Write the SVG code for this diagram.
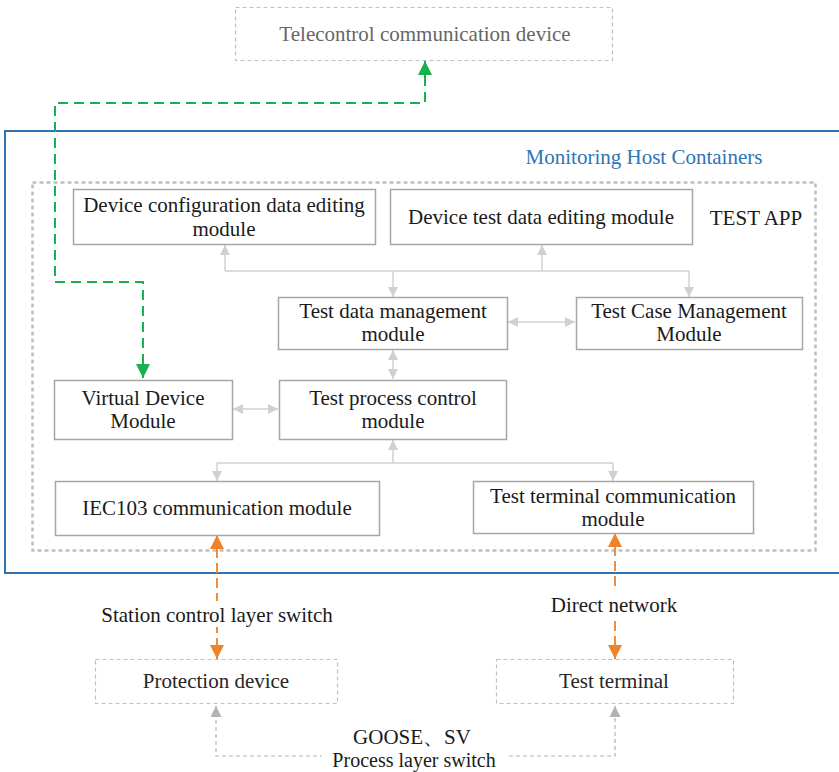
<svg xmlns="http://www.w3.org/2000/svg" width="839" height="772" viewBox="0 0 839 772">
  <style>
    text { font-family: "Liberation Serif", "Times New Roman", serif; text-anchor: middle; font-size: 21px; }
    .mod rect { fill: #fff; stroke: #a6a6a6; stroke-width: 1.5; }
    .mod text { fill: #1a1a1a; }
    .ext rect { fill: #fff; stroke: #c0c0c0; stroke-width: 1.2; stroke-dasharray: 4 3; }
    .ext text { fill: #262626; }
    .gray { fill: none; stroke: #d0d0d0; stroke-width: 1.5; }
    .green { fill: none; stroke: #19b04e; stroke-width: 2; stroke-dasharray: 10 6; }
    .orange { fill: none; stroke: #f0832a; stroke-width: 1.8; stroke-dasharray: 10 5; }
    .link { fill: none; stroke: #b3b3b3; stroke-width: 1.2; stroke-dasharray: 4 3; }
    .lbl { fill: #1a1a1a; }
  </style>
  <defs>
    <marker id="ag" viewBox="0 0 10 10" refX="10" refY="5" markerWidth="10" markerHeight="10" markerUnits="userSpaceOnUse" orient="auto-start-reverse">
      <path d="M0,0 L10,5 L0,10 z" fill="#d0d0d0"/>
    </marker>
    <marker id="agr" viewBox="0 0 10 10" refX="10" refY="5" markerWidth="14" markerHeight="14" markerUnits="userSpaceOnUse" orient="auto-start-reverse">
      <path d="M0,0 L10,5 L0,10 z" fill="#19b04e"/>
    </marker>
    <marker id="aor" viewBox="0 0 10 10" refX="10" refY="5" markerWidth="14" markerHeight="14" markerUnits="userSpaceOnUse" orient="auto-start-reverse">
      <path d="M0,0 L10,5 L0,10 z" fill="#f0832a"/>
    </marker>
    <marker id="alk" viewBox="0 0 10 10" refX="10" refY="5" markerWidth="11" markerHeight="11" markerUnits="userSpaceOnUse" orient="auto-start-reverse">
      <path d="M0,0 L10,5 L0,10 z" fill="#b3b3b3"/>
    </marker>
  </defs>

  <!-- monitoring host container -->
  <g id="host">
    <rect x="5" y="131" width="840" height="442" fill="none" stroke="#2e75b6" stroke-width="2"/>
    <text x="644" y="164" style="fill:#2e75b6">Monitoring Host Containers</text>
  </g>

  <!-- test app boundary -->
  <g id="test-app">
    <rect x="32.5" y="182.5" width="783" height="368" fill="none" stroke="#bfbfbf" stroke-width="2.5" stroke-dasharray="4 3"/>
    <text x="756" y="225" style="fill:#1a1a1a">TEST APP</text>
  </g>

  <!-- connectors -->
  <g id="connectors">
    <!-- top bus -->
    <path class="gray" d="M225,271 H689"/>
    <path class="gray" d="M225,271 V245" marker-end="url(#ag)"/>
    <path class="gray" d="M542,271 V245" marker-end="url(#ag)"/>
    <path class="gray" d="M393,271 V297" marker-end="url(#ag)"/>
    <path class="gray" d="M689,271 V297" marker-end="url(#ag)"/>
    <!-- mid links -->
    <path class="gray" d="M508,322 H575" marker-start="url(#ag)" marker-end="url(#ag)"/>
    <path class="gray" d="M393,350 V379" marker-start="url(#ag)" marker-end="url(#ag)"/>
    <path class="gray" d="M233,409 H278" marker-start="url(#ag)" marker-end="url(#ag)"/>
    <!-- lower bus -->
    <path class="gray" d="M217,463 H613"/>
    <path class="gray" d="M393,463 V440" marker-end="url(#ag)"/>
    <path class="gray" d="M217,463 V481" marker-end="url(#ag)"/>
    <path class="gray" d="M613,463 V481" marker-end="url(#ag)"/>

    <!-- telecontrol link -->
    <path class="green" d="M143,364 V282 H55 V103 H425 V75"/>
    <path d="M143,366 V378" stroke="#19b04e" stroke-width="2" marker-end="url(#agr)"/>
    <path d="M425,76 V61" stroke="#19b04e" stroke-width="2" marker-end="url(#agr)"/>

    <!-- station layer and direct network -->
    <path class="orange" d="M217,548 V645"/>
    <path d="M217,549 V535" stroke="#f0832a" stroke-width="2" marker-end="url(#aor)"/>
    <path d="M217,645 V659" stroke="#f0832a" stroke-width="2" marker-end="url(#aor)"/>
    <path class="orange" d="M615,546 V645" stroke-dasharray="10 4 2 4"/>
    <path d="M615,547 V533" stroke="#f0832a" stroke-width="2" marker-end="url(#aor)"/>
    <path d="M615,645 V659" stroke="#f0832a" stroke-width="2" marker-end="url(#aor)"/>
    <rect x="94" y="601" width="246" height="26" fill="#fff"/>
    <text class="lbl" x="217" y="622">Station control layer switch</text>
    <rect x="546" y="591" width="138" height="26" fill="#fff"/>
    <text class="lbl" x="614" y="612">Direct network</text>

    <!-- process layer -->
    <path class="link" d="M216,706 V756 H615 V706" marker-start="url(#alk)" marker-end="url(#alk)"/>
    <text class="lbl" x="412" y="744">GOOSE、SV</text>
    <rect x="322" y="751" width="184" height="21" fill="#fff"/>
    <text class="lbl" x="414" y="767" style="font-size:20px">Process layer switch</text>
  </g>

  <!-- external devices -->
  <g id="telecontrol" class="ext">
    <rect x="235.5" y="7.5" width="377" height="53"/>
    <text x="425" y="41" style="fill:#666">Telecontrol communication device</text>
  </g>
  <g id="protection-device" class="ext">
    <rect x="95.5" y="659.5" width="242" height="44"/>
    <text x="216" y="688">Protection device</text>
  </g>
  <g id="test-terminal" class="ext">
    <rect x="496.5" y="659.5" width="237" height="44"/>
    <text x="614" y="688">Test terminal</text>
  </g>

  <!-- modules -->
  <g id="device-config" class="mod">
    <rect x="73.5" y="189.5" width="302" height="55"/>
    <text x="224" y="212">Device configuration data editing</text>
    <text x="224" y="236">module</text>
  </g>
  <g id="device-test-data" class="mod">
    <rect x="390.5" y="189.5" width="302" height="55"/>
    <text x="541" y="224">Device test data editing module</text>
  </g>
  <g id="test-data-mgmt" class="mod">
    <rect x="278.5" y="297.5" width="229" height="52"/>
    <text x="393" y="318">Test data management</text>
    <text x="393" y="341">module</text>
  </g>
  <g id="test-case-mgmt" class="mod">
    <rect x="576.5" y="297.5" width="226" height="52"/>
    <text x="689" y="318">Test Case Management</text>
    <text x="689" y="341">Module</text>
  </g>
  <g id="virtual-device" class="mod">
    <rect x="54.5" y="380.5" width="178" height="59"/>
    <text x="143" y="405">Virtual Device</text>
    <text x="143" y="428">Module</text>
  </g>
  <g id="test-process" class="mod">
    <rect x="279.5" y="380.5" width="227" height="59"/>
    <text x="393" y="405">Test process control</text>
    <text x="393" y="428">module</text>
  </g>
  <g id="iec103" class="mod">
    <rect x="55.5" y="481.5" width="324" height="54"/>
    <text x="217" y="515">IEC103 communication module</text>
  </g>
  <g id="test-terminal-comm" class="mod">
    <rect x="473.5" y="481.5" width="280" height="52"/>
    <text x="613" y="503">Test terminal communication</text>
    <text x="613" y="526">module</text>
  </g>
</svg>
